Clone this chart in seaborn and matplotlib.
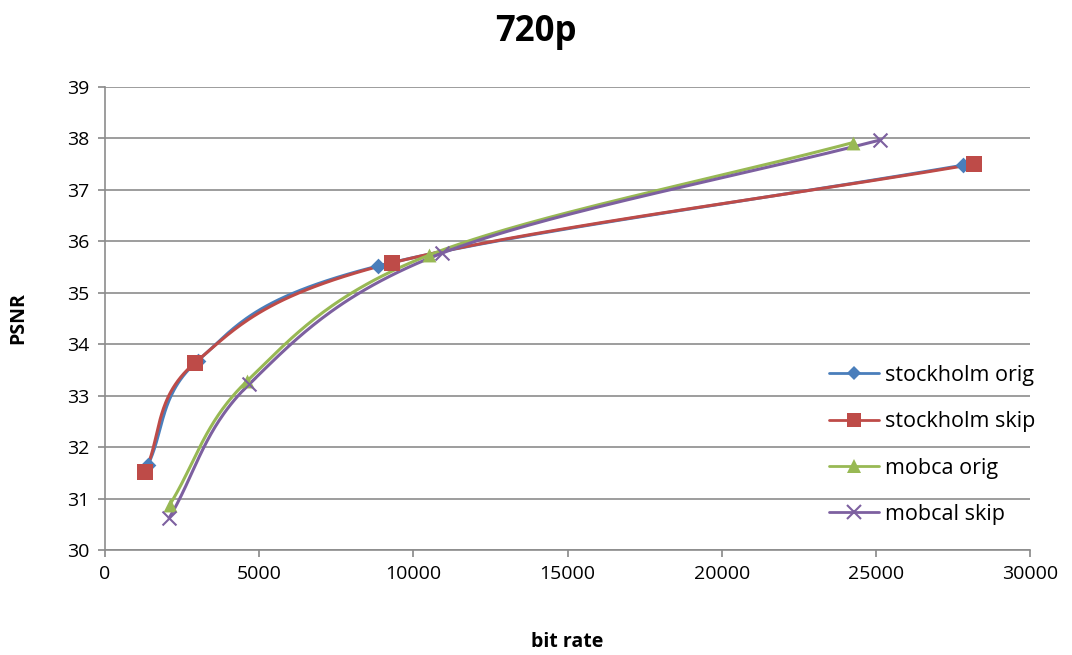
import numpy as np
import pandas as pd
import matplotlib
matplotlib.use("Agg")
import matplotlib.pyplot as plt
import seaborn as sns
from matplotlib.lines import Line2D

series_names = ["stockholm orig", "stockholm skip", "mobca orig", "mobcal skip"]
stockholm_orig_x = [1390, 3010, 8850, 27830]
stockholm_orig_y = [31.65, 33.68, 35.52, 37.48]
stockholm_skip_x = [1300, 2920, 9300, 28180]
stockholm_skip_y = [31.52, 33.64, 35.58, 37.50]
mobca_orig_x = [2100, 4600, 10500, 24260]
mobca_orig_y = [30.88, 33.28, 35.73, 37.92]
mobcal_skip_x = [2080, 4670, 10930, 25140]
mobcal_skip_y = [30.62, 33.22, 35.77, 37.97]

colors = ["#4A7EBB", "#BE4B48", "#98B954", "#7D60A0"]
markers = ["D", "s", "^", "x"]
msizes = [8, 11, 10, 10]

sns.set_theme(style="white")
plt.rcParams['font.family'] = ['Open Sans', 'DejaVu Sans']
plt.rcParams['text.color'] = 'black'
plt.rcParams['axes.labelcolor'] = 'black'

fig = plt.figure(figsize=(10.72, 6.55), dpi=100)
ax = fig.add_axes([105/1072, 1-550/655, (1030-105)/1072, (550-87)/655])

def catmull(xs, ys, n=60):
    P = np.column_stack([xs, ys]).astype(float)
    sx = 30000.0; sy = 9.0
    Q = P / [sx, sy]
    Q = np.vstack([2*Q[0]-Q[1], Q, 2*Q[-1]-Q[-2]])
    out = []
    for i in range(1, len(Q)-2):
        p0, p1, p2, p3 = Q[i-1], Q[i], Q[i+1], Q[i+2]
        t = np.linspace(0, 1, n)[:, None]
        c1 = p1 + (p2 - p0) / 6
        c2 = p2 - (p3 - p1) / 6
        b = ((1-t)**3)*p1 + 3*((1-t)**2)*t*c1 + 3*(1-t)*t**2*c2 + t**3*p2
        out.append(b)
    B = np.vstack(out) * [sx, sy]
    return B[:, 0], B[:, 1]

data = [(stockholm_orig_x, stockholm_orig_y), (stockholm_skip_x, stockholm_skip_y),
        (mobca_orig_x, mobca_orig_y), (mobcal_skip_x, mobcal_skip_y)]

handles = []
for (xs, ys), name, c, m, ms in zip(data, series_names, colors, markers, msizes):
    sx_, sy_ = catmull(xs, ys)
    ax.plot(sx_, sy_, color=c, lw=2.2, zorder=2)
    df = pd.DataFrame({"x": xs, "y": ys})
    if m == "x":
        ax.scatter(df.x, df.y, marker="x", s=ms**2, color=c, linewidths=1.5, zorder=3)
    else:
        sns.scatterplot(data=df, x="x", y="y", marker=m, s=ms**2, color=c,
                        edgecolor=c, linewidth=0, ax=ax, zorder=3)
    handles.append(Line2D([0], [0], color=c, lw=2, marker=m, markersize=ms*0.95,
                          markeredgewidth=1.5 if m == "x" else 0))

ax.set_xlim(0, 30000)
ax.set_ylim(30, 39)
ax.set_xticks(range(0, 30001, 5000))
ax.set_yticks(range(30, 40))
ax.yaxis.grid(True, color="#8C8C8C", lw=1.2)
ax.xaxis.grid(False)
for s in ["top", "right"]:
    ax.spines[s].set_visible(False)
for s in ["left", "bottom"]:
    ax.spines[s].set_color("#8C8C8C")
    ax.spines[s].set_linewidth(1.2)
ax.tick_params(axis="both", labelsize=14, labelcolor="black", length=5, direction="out",
               color="#8C8C8C", bottom=True, left=True, pad=6)
ax.set_xlabel("bit rate", fontsize=14, fontweight="bold", labelpad=35)
ax.set_ylabel("PSNR", fontsize=14, fontweight="bold", labelpad=28)
fig.suptitle("720p", fontsize=25, fontweight="bold", y=0.978)

leg = ax.legend(handles, series_names, loc="center left", bbox_to_anchor=(0.762, 0.227),
                frameon=False, fontsize=15.5, handlelength=2.3, labelspacing=1.18,
                handletextpad=0.3)
fig.savefig("out.png", dpi=100, facecolor="white")
